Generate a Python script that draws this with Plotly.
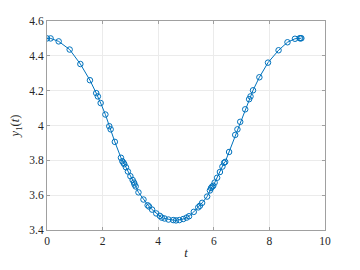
import plotly.graph_objects as go

t = [0.0, 0.13, 0.42, 0.815, 1.2, 1.545, 1.77, 1.83, 1.93, 2.1, 2.24, 2.29,
     2.44, 2.66, 2.71, 2.75, 2.78, 2.84, 2.91, 3.0, 3.08, 3.13, 3.15, 3.19,
     3.29, 3.47, 3.62, 3.67, 3.78, 3.93, 4.06, 4.13, 4.23, 4.37, 4.54, 4.64,
     4.76, 4.90, 5.02, 5.11, 5.28, 5.44, 5.50, 5.58, 5.76, 5.86, 5.90, 5.94,
     5.98, 6.03, 6.12, 6.22, 6.31, 6.37, 6.41, 6.55, 6.77, 6.85, 6.95, 7.13,
     7.27, 7.32, 7.41, 7.64, 7.95, 8.33, 8.65, 8.92, 9.09, 9.12, 9.15]
y1 = [4.5, 4.5, 4.483, 4.436, 4.353, 4.26, 4.186, 4.167, 4.129, 4.063, 3.996, 3.978,
      3.906, 3.815, 3.795, 3.786, 3.778, 3.76, 3.736, 3.709, 3.687, 3.672, 3.661, 3.65,
      3.616, 3.575, 3.542, 3.535, 3.517, 3.495, 3.481, 3.471, 3.466, 3.46, 3.457, 3.455,
      3.457, 3.463, 3.471, 3.479, 3.504, 3.53, 3.539, 3.556, 3.592, 3.627, 3.641, 3.649,
      3.654, 3.672, 3.70, 3.733, 3.764, 3.786, 3.791, 3.848, 3.946, 3.978, 4.021, 4.093,
      4.151, 4.167, 4.202, 4.277, 4.361, 4.432, 4.478, 4.498, 4.501, 4.501, 4.501]

x_ticks = [0, 2, 4, 6, 8, 10]
y_ticks = [3.4, 3.6, 3.8, 4.0, 4.2, 4.4, 4.6]
y_tick_text = ["3.4", "3.6", "3.8", "4", "4.2", "4.4", "4.6"]

fig = go.Figure()
fig.add_trace(go.Scatter(
    x=t, y=y1, mode="lines+markers",
    line=dict(color="#0072BD", width=1),
    marker=dict(symbol="circle-open", size=5.5, color="#0072BD", line=dict(width=1)),
    showlegend=False,
))

SERIF = "Liberation Serif"
font = dict(family=SERIF, size=11.5, color="#262626")
axis_common = dict(
    showgrid=True, gridcolor="#ebebeb", gridwidth=1,
    showline=True, linecolor="#a0a0a0", linewidth=1, mirror="ticks",
    ticks="inside", ticklen=3, tickcolor="#a0a0a0",
    zeroline=False, tickfont=font,
)
fig.update_layout(
    width=360, height=270,
    margin=dict(l=47, r=35, t=21, b=30),
    paper_bgcolor="white", plot_bgcolor="white",
    font=dict(family=SERIF, color="#262626"),
    xaxis=dict(range=[0, 10], tickvals=x_ticks, ticktext=[str(v) for v in x_ticks],
               title=dict(text="<i>t</i>", font=dict(family=SERIF, size=12.5, color="#262626"), standoff=2),
               **axis_common),
    yaxis=dict(range=[3.4, 4.6], tickvals=y_ticks, ticktext=y_tick_text,
               title=dict(text="<i>y</i><sub>1</sub>(<i>t</i>)", font=dict(family=SERIF, size=12.5, color="#262626"), standoff=6),
               **axis_common),
)
fig.write_html("out.html")
